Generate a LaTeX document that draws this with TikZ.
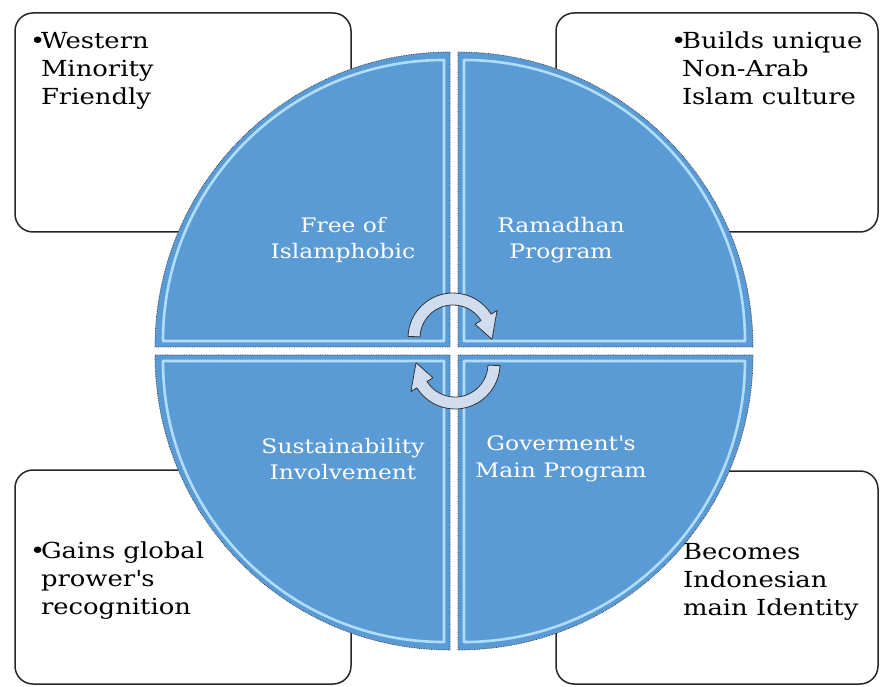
\documentclass[tikz,border=0pt]{standalone}
\usepackage{fontspec}
\setmainfont{DejaVu Serif}
\newfontfamily\widefont[FakeStretch=1.17]{DejaVu Serif}
\usepackage{tikz}
\usetikzlibrary{calc}

\definecolor{quadfill}{RGB}{91,155,213}
\definecolor{quadglow}{RGB}{176,222,250}
\definecolor{arrowfill}{RGB}{208,221,238}

\newcommand{\bulletmark}{\makebox[11pt][l]{•}}
\newcommand{\bulletgap}{\hspace*{11pt}}

\begin{document}
\begin{tikzpicture}[x=1pt, y=1pt]

\useasboundingbox (0, 0) rectangle (880, 686) ;

\tikzset{%
sidebox/.style={draw=black!85, line width=1.5pt, rounded corners=18pt, inner sep=0, outer sep=0},
sidetext/.style={black, font=\widefont\fontsize{22.1}{28}\selectfont, align=left, anchor=north west, inner sep=0, outer sep=0},
quadtext/.style={white, font=\widefont\fontsize{20}{26.5}\selectfont, align=center, inner sep=0, outer sep=0},
quadline/.style={line width=0.7pt, black!80, densely dotted},
glowline/.style={line width=2.6pt, quadglow, line cap=round, line join=round},
cyclearrow/.style={line width=0.8pt, black!80, fill=arrowfill, line join=round}%
}

% arguments: name, x sign, y sign, start angle
\newcommand{\drawquadrant}[4]{%
\path ($ (C) + (#2*4, #3*4) $) node [shape=coordinate] (#1) {} ;
\path ($ (C) + (#2*10, #3*10) $) node [shape=coordinate] (#1inner) {} ;
\fill [quadfill] (#1) -- ++(#4:295pt) arc (#4:#4+90:295pt) -- cycle ;
\draw [glowline] (#1inner) -- ++(#4:281pt) arc (#4:#4+90:281pt) -- cycle ;
\draw [quadline] (#1) -- ++(#4:295pt) arc (#4:#4+90:295pt) -- cycle ;
}

% arguments: name, rotation
\newcommand{\drawcyclearrow}[2]{%
\begin{scope}[shift={(C)}, rotate=#2, shift={(-1, 13)}]
\path (0, 0) node [shape=coordinate] (#1) {} ;
\draw [cyclearrow] (178:45pt) arc (178:32:45pt) -- (32:52pt) -- (-2:39pt)
	-- (32:26pt) -- (32:33pt) arc (32:178:33pt) -- cycle ;
\end{scope}
}

\path (454, 335) node [shape=coordinate] (C) {} ;

% draw side boxes

\node [sidebox, minimum width=336pt, minimum height=219pt] (westbox) at (183, 563.5) {} ;
\node [sidebox, minimum width=322pt, minimum height=219pt] (culturebox) at (717, 563.5) {} ;
\node [sidebox, minimum width=336pt, minimum height=214pt] (globalbox) at (183, 109) {} ;
\node [sidebox, minimum width=322pt, minimum height=213pt] (identitybox) at (717, 108.5) {} ;

% draw quadrants

\drawquadrant{qtl}{-1}{1}{90}
\drawquadrant{qtr}{1}{1}{0}
\drawquadrant{qbl}{-1}{-1}{180}
\drawquadrant{qbr}{1}{-1}{270}

\node [quadtext] (islamtext) at (343, 446) {Free of\\Islamphobic} ;
\node [quadtext] (ramadhantext) at (561, 446) {Ramadhan\\Program} ;
\node [quadtext] (sustaintext) at (343, 227) {Sustainability\\Involvement} ;
\node [quadtext] (govtext) at (561, 227) {Goverment\textquotesingle s\\Main Program} ;

% draw cycle arrows

\drawcyclearrow{arrowtop}{0}
\drawcyclearrow{arrowbottom}{180}

% draw side texts

\node [sidetext] (westtext) at (30, 654) {\bulletmark Western\\\bulletgap Minority\\\bulletgap Friendly} ;
\node [sidetext] (culturetext) at (671, 654) {\bulletmark Builds unique\\\bulletgap Non-Arab\\\bulletgap Islam culture} ;
\node [sidetext] (globaltext) at (30, 144) {\bulletmark Gains global\\\bulletgap prower\textquotesingle s\\\bulletgap recognition} ;
\node [sidetext] (identitytext) at (683, 143) {Becomes\\Indonesian\\main Identity} ;

\end{tikzpicture}
\end{document}
